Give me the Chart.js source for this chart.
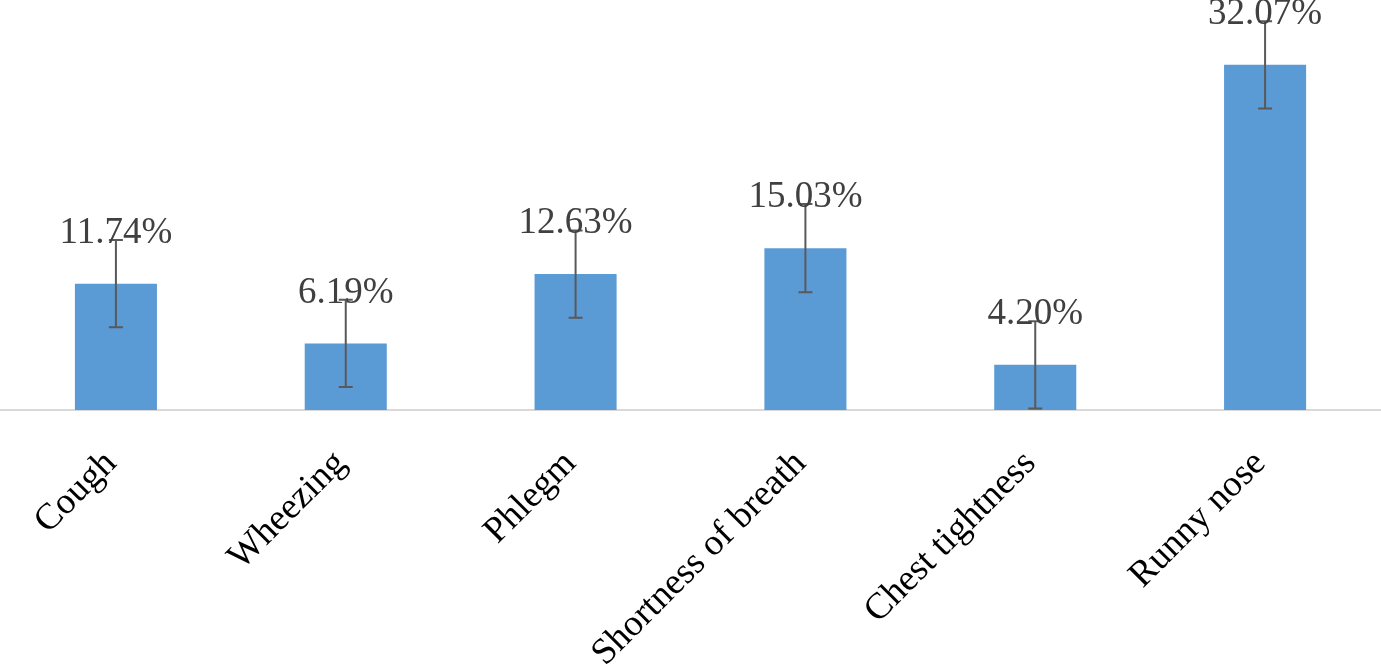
<!DOCTYPE html>
<html>
<head>
<meta charset="utf-8">
<script src="https://cdn.jsdelivr.net/npm/chart.js@4.4.1/dist/chart.umd.min.js"></script>
<style>
  body { margin: 0; background: #fff; }
</style>
</head>
<body>
<canvas id="symptom-chart" width="1381" height="667"></canvas>
<script>
const symptoms = ['Cough', 'Wheezing', 'Phlegm', 'Shortness of breath', 'Chest tightness', 'Runny nose'];
const prevalence = [11.74, 6.19, 12.63, 15.03, 4.20, 32.07];
const errorMargin = [4.05, 4.05, 4.05, 4.1, 4.05, 4.05];

const ctx = document.getElementById('symptom-chart');

// error bars + value labels
const errorBarPlugin = {
    id: 'errorBars',
    afterDatasetsDraw(chart) {
        const c = chart.ctx;
        const y = chart.scales.y;
        const meta = chart.getDatasetMeta(0);
        c.save();
        meta.data.forEach((bar, i) => {
            const top = y.getPixelForValue(prevalence[i] + errorMargin[i]);
            const bottom = y.getPixelForValue(prevalence[i] - errorMargin[i]);
            c.strokeStyle = '#595959';
            c.lineWidth = 2;
            c.beginPath();
            c.moveTo(bar.x, top);
            c.lineTo(bar.x, bottom);
            c.moveTo(bar.x - 7, top);
            c.lineTo(bar.x + 7, top);
            c.moveTo(bar.x - 7, bottom);
            c.lineTo(bar.x + 7, bottom);
            c.stroke();

            c.fillStyle = '#404040';
            c.font = '37px "Liberation Serif"';
            c.textAlign = 'center';
            c.textBaseline = 'alphabetic';
            c.fillText(prevalence[i].toFixed(2) + '%', bar.x, top + 3);
        });
        c.restore();
    }
};

new Chart(ctx, {
    type: 'bar',
    data: {
        labels: symptoms,
        datasets: [{
            data: prevalence,
            backgroundColor: '#5b9bd5',
            categoryPercentage: 1,
            barPercentage: 0.357
        }]
    },
    options: {
        responsive: false,
        animation: false,
        layout: { padding: { top: 1, left: 1, right: 1 } },
        plugins: {
            legend: { display: false },
            tooltip: { enabled: false }
        },
        scales: {
            x: {
                grid: { display: false },
                border: { display: true, color: '#d9d9d9', width: 2 },
                ticks: {
                    color: '#000',
                    font: { family: 'Liberation Serif', size: 37 },
                    maxRotation: 45,
                    minRotation: 45,
                    padding: 24,
                    labelOffset: -5
                },
                afterFit: (scale) => { scale.height = 257; }
            },
            y: {
                display: false,
                min: 0,
                max: 38
            }
        }
    },
    plugins: [errorBarPlugin]
});
</script>
</body>
</html>
